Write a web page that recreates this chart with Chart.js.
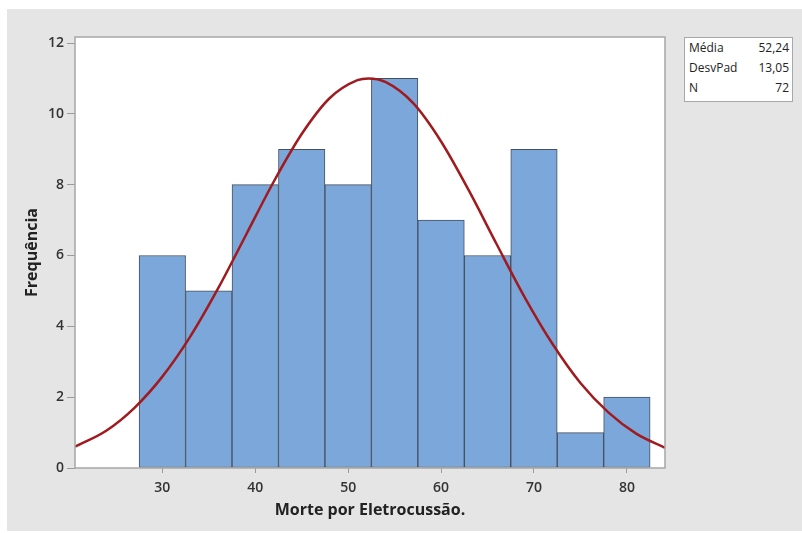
<!DOCTYPE html>
<html>
<head>
<meta charset="utf-8">
<script src="https://cdn.jsdelivr.net/npm/chart.js@4.4.1/dist/chart.umd.min.js"></script>
<style>
    body { margin: 0; background: #fff; width: 802px; height: 533px; overflow: hidden; position: relative; }
    #panel { position: absolute; left: 7px; top: 9px; width: 795px; height: 522px; background: #e5e5e5; }
    #chart { position: absolute; left: 0; top: 0; }
    #stats {
        position: absolute; left: 677px; top: 28px; width: 107px; height: 63px;
        background: #fff; border: 1px solid #a8a8a8;
        font-family: "Open Sans", sans-serif; font-size: 12px; color: #222;
    }
    #stats .row { display: flex; justify-content: space-between; padding: 0 3px 0 4px; height: 20px; line-height: 20px; }
</style>
</head>
<body>
<div id="panel">
    <canvas id="chart" width="795" height="522"></canvas>
    <div id="stats"></div>
</div>
<script>
// Histograma: centros das classes e frequências
const binCenters = [30, 35, 40, 45, 50, 55, 60, 65, 70, 75, 80];
const frequencies = [6, 5, 8, 9, 8, 11, 7, 6, 9, 1, 2];

// Curva normal ajustada
const curveX = [20.6, 24, 27, 30, 33, 36, 39, 42, 45, 48, 51, 52.2, 54, 57, 60, 63, 66, 69, 72, 75, 78, 81, 84.1];
const curveY = [0.60, 1.06, 1.70, 2.58, 3.71, 5.07, 6.58, 8.09, 9.43, 10.44, 10.95, 11.0, 10.90, 10.30, 9.22, 7.83, 6.31, 4.82, 3.50, 2.40, 1.57, 0.97, 0.57];

const xTicks = [30, 40, 50, 60, 70, 80];
const yTicks = [0, 2, 4, 6, 8, 10, 12];

const statLabels = ['Média', 'DesvPad', 'N'];
const statValues = ['52,24', '13,05', '72'];

// Caixa de estatísticas
const statsBox = document.getElementById('stats');
statLabels.forEach((lbl, i) => {
    const row = document.createElement('div');
    row.className = 'row';
    row.innerHTML = '<span>' + lbl + '</span><span>' + statValues[i] + '</span>';
    statsBox.appendChild(row);
});

// fundo branco + moldura da área do gráfico
const plotFrame = {
    id: 'plotFrame',
    beforeDraw(chart) {
        const a = chart.chartArea, ctx = chart.ctx;
        ctx.save();
        ctx.fillStyle = '#ffffff';
        ctx.fillRect(a.left, a.top, a.right - a.left, a.bottom - a.top);
        ctx.restore();
    },
    afterDraw(chart) {
        const a = chart.chartArea, ctx = chart.ctx;
        ctx.save();
        ctx.strokeStyle = '#a6a6a6';
        ctx.lineWidth = 1.5;
        ctx.strokeRect(a.left, a.top, a.right - a.left, a.bottom - a.top);
        ctx.restore();
    }
};

const tickFont = { family: '"Open Sans", sans-serif', size: 14, weight: '600' };
const titleFont = { family: '"Open Sans", sans-serif', size: 16, weight: 'bold' };

new Chart(document.getElementById('chart').getContext('2d'), {
    data: {
        datasets: [{
            type: 'line',
            data: curveX.map((x, i) => ({ x: x, y: curveY[i] })),
            borderColor: '#a01a1e',
            borderWidth: 2.5,
            pointRadius: 0,
            cubicInterpolationMode: 'monotone',
            fill: false,
            order: 0
        }, {
            type: 'bar',
            data: binCenters.map((x, i) => ({ x: x, y: frequencies[i] })),
            backgroundColor: '#7ba7da',
            borderColor: '#46505e',
            borderWidth: 1,
            borderSkipped: false,
            barPercentage: 1,
            categoryPercentage: 1,
            grouped: false,
            order: 1
        }]
    },
    options: {
        responsive: false,
        animation: false,
        layout: { padding: { top: 28, right: 137, left: 0, bottom: 0 } },
        plugins: { legend: { display: false }, tooltip: { enabled: false } },
        scales: {
            x: {
                type: 'linear',
                offset: false,
                min: 20.6,
                max: 84.1,
                afterBuildTicks: s => { s.ticks = xTicks.map(v => ({ value: v })); },
                afterFit: s => { s.height = 63; },
                grid: { offset: false, drawOnChartArea: false, drawTicks: true, tickLength: 5, color: '#999' },
                border: { display: false },
                ticks: { font: tickFont, color: '#333', padding: 7, maxRotation: 0 },
                title: { display: true, text: 'Morte por Eletrocussão.', font: titleFont, color: '#222', padding: { bottom: 11 } }
            },
            y: {
                min: 0,
                max: 12.17,
                afterBuildTicks: s => { s.ticks = yTicks.map(v => ({ value: v })); },
                afterFit: s => { s.width = 68; },
                grid: { drawOnChartArea: false, drawTicks: true, tickLength: 8, color: '#999' },
                border: { display: false },
                ticks: { font: tickFont, color: '#333', padding: 3 },
                title: { display: true, text: 'Frequência', font: titleFont, color: '#222', padding: { top: 16 } }
            }
        }
    },
    plugins: [plotFrame]
});
</script>
</body>
</html>
